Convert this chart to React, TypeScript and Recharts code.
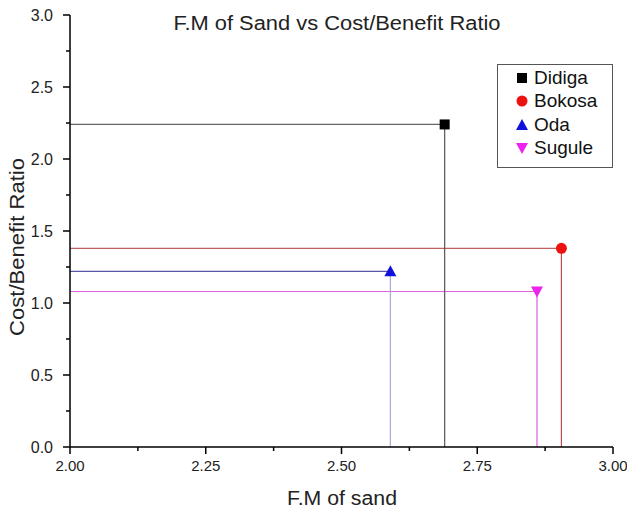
import {
  ScatterChart,
  Scatter,
  XAxis,
  YAxis,
  ReferenceLine,
} from 'recharts';

const sites = ['Didiga', 'Bokosa', 'Oda', 'Sugule'];
const fmSand = [2.69, 2.905, 2.59, 2.86];
const costBenefit = [2.24, 1.38, 1.22, 1.08];

const xTicks = [2, 2.125, 2.25, 2.375, 2.5, 2.625, 2.75, 2.875, 3];
const yTicks = [0, 0.25, 0.5, 0.75, 1, 1.25, 1.5, 1.75, 2, 2.25, 2.5, 2.75, 3];

const markColors = ['#000000', '#ee1111', '#1111dd', '#ee22ee'];
const hLineColors = ['#666666', '#c06060', '#5858a8', '#e060e0'];
const vLineColors = ['#555555', '#c04848', '#a8a8d8', '#d860d8'];
const shapes = ['square', 'circle', 'up', 'down'];

const FONT = '"Liberation Sans", Arial, sans-serif';

const Marker = ({ cx, cy, kind, color }: any) => {
  if (typeof cx !== 'number' || typeof cy !== 'number') return <g />;
  if (kind === 'square') {
    return <rect x={cx - 5} y={cy - 5} width={10} height={10} fill={color} />;
  }
  if (kind === 'circle') {
    return <circle cx={cx} cy={cy} r={5.5} fill={color} />;
  }
  if (kind === 'up') {
    return <polygon points={`${cx},${cy - 6} ${cx - 6},${cy + 5} ${cx + 6},${cy + 5}`} fill={color} />;
  }
  return <polygon points={`${cx},${cy + 6} ${cx - 6},${cy - 5} ${cx + 6},${cy - 5}`} fill={color} />;
};

const XTick = (props: any) => {
  const { x, y, payload } = props;
  const v = payload.value;
  const major = Math.abs(v * 4 - Math.round(v * 4)) < 1e-6;
  return (
    <g>
      <line x1={x} x2={x} y1={y} y2={y + (major ? 7 : 4)} stroke="#000" strokeWidth={1.5} />
      {major && (
        <text x={x} y={y + 24} textAnchor="middle" fontSize={15} fill="#222" fontFamily={FONT}>
          {v.toFixed(2)}
        </text>
      )}
    </g>
  );
};

const YTick = (props: any) => {
  const { x, y, payload } = props;
  const v = payload.value;
  const major = Math.abs(v * 2 - Math.round(v * 2)) < 1e-6;
  return (
    <g>
      <line x1={x} x2={x - (major ? 7 : 4)} y1={y} y2={y} stroke="#000" strokeWidth={1.5} />
      {major && (
        <text x={x - 17} y={y + 5.5} textAnchor="end" fontSize={16} fill="#222" fontFamily={FONT}>
          {v.toFixed(1)}
        </text>
      )}
    </g>
  );
};

const LegendBox = () => (
  <div
    style={{
      position: 'absolute',
      left: 497,
      top: 64,
      width: 114,
      height: 101,
      border: '1px solid #555',
      background: '#fff',
      boxSizing: 'content-box',
      fontFamily: FONT,
      fontSize: 19,
      color: '#111',
      paddingTop: 1,
    }}
  >
    {sites.map((s, i) => (
      <div key={s} style={{ display: 'flex', alignItems: 'center', height: 23.5 }}>
        <svg width={36} height={20} style={{ marginLeft: 6 }}>
          <Marker cx={18} cy={10} kind={shapes[i]} color={markColors[i]} />
        </svg>
        <span style={{ marginLeft: -6, lineHeight: '20px' }}>{s}</span>
      </div>
    ))}
  </div>
);

export default function App() {
  const series = sites.map((s, i) => ({
    name: s,
    data: [{ x: fmSand[i], y: costBenefit[i] }],
  }));

  return (
    <div style={{ position: 'absolute', left: 0, top: 0, width: 627, height: 512, background: '#fff' }}>
      <ScatterChart width={627} height={512} margin={{ top: 15, right: 14, left: 0, bottom: 0 }}>
        <XAxis
          type="number"
          dataKey="x"
          domain={[2, 3]}
          ticks={xTicks}
          interval={0}
          tickSize={0}
          tickMargin={0}
          tick={<XTick />}
          axisLine={{ stroke: '#000', strokeWidth: 1.5 }}
          height={65}
        />
        <YAxis
          type="number"
          dataKey="y"
          domain={[0, 3]}
          ticks={yTicks}
          interval={0}
          tickSize={0}
          tickMargin={0}
          tick={<YTick />}
          axisLine={{ stroke: '#000', strokeWidth: 1.5 }}
          width={70}
        />
        {sites.map((s, i) => (
          <ReferenceLine
            key={`h-${s}`}
            segment={[{ x: 2, y: costBenefit[i] }, { x: fmSand[i], y: costBenefit[i] }]}
            stroke={hLineColors[i]}
            strokeWidth={1.2}
          />
        ))}
        {sites.map((s, i) => (
          <ReferenceLine
            key={`v-${s}`}
            segment={[{ x: fmSand[i], y: 0 }, { x: fmSand[i], y: costBenefit[i] }]}
            stroke={vLineColors[i]}
            strokeWidth={1.2}
          />
        ))}
        {series.map((sr, i) => (
          <Scatter
            key={sr.name}
            name={sr.name}
            data={sr.data}
            fill={markColors[i]}
            isAnimationActive={false}
            shape={(p: any) => <Marker cx={p.cx} cy={p.cy} kind={shapes[i]} color={markColors[i]} />}
          />
        ))}
        <text x={337} y={30} textAnchor="middle" fontSize={20} fill="#222" fontFamily={FONT} textLength={327} lengthAdjust="spacingAndGlyphs">
          F.M of Sand vs Cost/Benefit Ratio
        </text>
        <text x={342} y={505} textAnchor="middle" fontSize={20} fill="#222" fontFamily={FONT} textLength={110} lengthAdjust="spacingAndGlyphs">
          F.M of sand
        </text>
        <text
          x={0}
          y={0}
          transform="translate(24, 247) rotate(-90)"
          textAnchor="middle"
          fontSize={20}
          fill="#222"
          fontFamily={FONT}
          textLength={178}
          lengthAdjust="spacingAndGlyphs"
        >
          Cost/Benefit Ratio
        </text>
      </ScatterChart>
      <LegendBox />
    </div>
  );
}
